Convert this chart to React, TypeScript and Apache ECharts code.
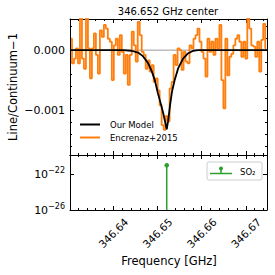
import React, { useEffect, useRef } from "react";
import * as echarts from "echarts";

// ---- data ----
const X_MIN = 346.6302;
const X_MAX = 346.6748;
const Y_MIN = -0.00175;
const Y_MAX = 0.00052;
const LOG_MIN = 1e-26;
const LOG_MAX = 1.4e-20;

// Encrenaz+2015 spectrum (Line/Continuum-1, units of 1e-4), channel grid
const CH_START = 346.6302; // left edge of first channel (GHz)
const CH_WIDTH = 0.000451; // channel width (GHz)
const OBS_VALUES_E4 = [
  1.9, -2.2, -1.4, 0.3, -2.2, 6.0, -1.4, -3.1, 6.0, 0.3, -4.7, 0.3, 2.8, -0.8, -3.9, 3.3, 2.2, 4.2, 3.6, 1.9, 1.4, -5.0, 0.8, 1.9, -0.8,
  2.5, -0.3, -3.9, -0.8, -5.8, -0.8, 3.1, 0.8, -1.9, 4.7, 2.5, -0.3, -0.8, -3.1, -1.7, -3.6, -2.5, -5.3, -4.7, -6.7, -9.2, -12.5, -13.3, -11.0,
  -11.9, -6.4, -5.3, -0.8, -2.5, 0.3, 0.0, -3.3, -0.3, -1.9, -2.2, 0.8, 0.3, 1.9, 2.5, 3.6, 1.4, -0.3, -1.4, -4.4, 1.9, -0.3, 1.4, -0.8, 1.9, 0.3,
  4.2, -5.0, -9.7, 1.9, -4.2, -1.1, -0.6, 0.8, 1.9, 2.5, 1.4, -1.1, 1.4, -1.4, 6.0, 3.6, 0.8, 0.6, -1.1, 1.4, -3.6, 1.7, 4.4, 0.3,
];

// Our Model
const MODEL_FREQ = [
  346.6302, 346.6422, 346.6441, 346.6456, 346.6467, 346.6479, 346.6487, 346.6494, 346.6501, 346.6507,
  346.6513, 346.6518, 346.6521, 346.6524, 346.65285, 346.6533, 346.6539, 346.6547, 346.6558, 346.6569,
  346.6581, 346.6592, 346.6748,
];
const MODEL_VAL_E4 = [
  0, 0, -0.1, -0.4, -1.0, -2.2, -3.5, -5.0, -7.2, -8.8,
  -10.5, -12.2, -13.2, -11.9, -9.2, -6.9, -5.0, -3.0, -1.4, -0.55,
  -0.1, 0, 0,
];

// SO2 line
const SO2_FREQ = [346.6521];
const SO2_INTENSITY = [1e-21];

// ticks
const X_MAJOR = [346.64, 346.65, 346.66, 346.67];
const Y_MAJOR = [0, -0.001];
const LOG_MAJOR = [1e-26, 1e-22];

const FONT = "DejaVu Sans";

export default function App() {
  const ref = useRef<HTMLDivElement>(null);
  useEffect(() => {
    if (!ref.current) return;
    const chart = echarts.init(ref.current, null, { renderer: "svg" });

    const obsData = OBS_VALUES_E4.map((v, i) => [CH_START + (i + 0.5) * CH_WIDTH, v * 1e-4]);
    const modelData = MODEL_FREQ.map((f, i) => [f, MODEL_VAL_E4[i] * 1e-4]);

    const xMinor: number[] = [];
    for (let i = 0; i <= 22; i++) {
      const v = Math.round((346.632 + 0.002 * i) * 1000) / 1000;
      if (v > X_MAX) break;
      if (Math.abs(Math.round(v * 100) - v * 100) < 1e-6) continue;
      xMinor.push(v);
    }
    const yMinor: number[] = [];
    for (let i = -8; i <= 2; i++) {
      if (i === 0 || i === -5) continue;
      yMinor.push(i * 0.0002);
    }

    const grids = [
      { left: 70, top: 19, width: 197, height: 136 },
      { left: 70, top: 155, width: 197, height: 55 },
    ];

    const lineStyle = { color: "#000", width: 1 };
    const mkX = (gridIndex: number, position: string, ticks: number[], len: number, showLine: boolean, labels: boolean) => ({
      type: "value",
      gridIndex,
      position,
      min: X_MIN,
      max: X_MAX,
      axisLine: { show: showLine, onZero: false, lineStyle },
      splitLine: { show: false },
      axisTick: { show: true, inside: true, length: len, lineStyle, customValues: ticks },
      axisLabel: labels
        ? {
            show: true,
            customValues: X_MAJOR,
            rotate: 45,
            align: "center",
            verticalAlign: "middle",
            margin: 23,
            fontSize: 10.5,
            fontFamily: FONT,
            color: "#000",
            formatter: (v: number) => v.toFixed(2),
          }
        : { show: false },
    });
    const mkY = (gridIndex: number, position: string, ticks: number[], len: number, showLine: boolean, labels: boolean) => ({
      type: "value",
      gridIndex,
      position,
      min: Y_MIN,
      max: Y_MAX,
      axisLine: { show: showLine, onZero: false, lineStyle },
      splitLine: { show: false },
      axisTick: { show: true, inside: true, length: len, lineStyle, customValues: ticks },
      axisLabel: labels
        ? {
            show: true,
            customValues: Y_MAJOR,
            margin: 5,
            fontSize: 11,
            fontFamily: FONT,
            color: "#000",
            formatter: (v: number) => v.toFixed(3).replace("-", "\u2212"),
          }
        : { show: false },
    });
    const mkLog = (position: string, labels: boolean) => ({
      type: "log",
      logBase: 10,
      gridIndex: 1,
      position,
      min: LOG_MIN,
      max: LOG_MAX,
      axisLine: { show: true, onZero: false, lineStyle },
      splitLine: { show: false },
      minorTick: { show: false },
      axisTick: { show: true, inside: true, length: 4, lineStyle, customValues: LOG_MAJOR },
      axisLabel: labels
        ? {
            show: true,
            customValues: LOG_MAJOR,
            margin: 5,
            fontFamily: FONT,
            color: "#000",
            formatter: (v: number) => {
              const e = Math.round(Math.log10(v));
              return "{b|10}{s|" + String(e).replace("-", "\u2212") + "}";
            },
            rich: {
              b: { fontSize: 11, fontFamily: FONT, color: "#000" },
              s: { fontSize: 8, fontFamily: FONT, color: "#000", padding: [0, 0, 8, 0] },
            },
          }
        : { show: false },
    });

    const option: any = {
      animation: false,
      backgroundColor: "#fff",
      title: {
        text: "346.652 GHz center",
        left: 168,
        top: 6,
        padding: 0,
        textAlign: "center",
        textStyle: { fontSize: 10, fontWeight: "normal", fontFamily: FONT, color: "#000" },
      },
      legend: {
        data: ["Our Model", "Encrenaz+2015"],
        orient: "vertical",
        left: 80,
        top: 120,
        padding: 0,
        itemWidth: 20,
        itemHeight: 2,
        itemGap: 4,
        icon: "rect",
        selectedMode: false,
        textStyle: { fontSize: 8.5, fontFamily: FONT, color: "#000", padding: [0, 0, 0, 5] },
      },
      grid: grids,
      xAxis: [
        mkX(0, "bottom", X_MAJOR, 4, true, false),
        mkX(0, "bottom", xMinor, 2, false, false),
        mkX(0, "top", X_MAJOR, 4, true, false),
        mkX(0, "top", xMinor, 2, false, false),
        mkX(1, "bottom", X_MAJOR, 4, true, true),
        mkX(1, "bottom", xMinor, 2, false, false),
        mkX(1, "top", X_MAJOR, 4, true, false),
        mkX(1, "top", xMinor, 2, false, false),
      ],
      yAxis: [
        mkY(0, "left", Y_MAJOR, 4, true, true),
        mkY(0, "left", yMinor, 2, false, false),
        mkY(0, "right", Y_MAJOR, 4, true, false),
        mkY(0, "right", yMinor, 2, false, false),
        mkLog("left", true),
        mkLog("right", false),
      ],
      series: [
        {
          name: "zero",
          type: "line",
          xAxisIndex: 0,
          yAxisIndex: 0,
          data: [[X_MIN, 0], [X_MAX, 0]],
          symbol: "none",
          lineStyle: { color: "#9a9a9a", width: 1 },
          z: 1,
          silent: true,
        },
        {
          name: "Encrenaz+2015",
          type: "line",
          xAxisIndex: 0,
          yAxisIndex: 0,
          step: "middle",
          data: obsData,
          symbol: "none",
          color: "#ff7f0e",
          lineStyle: { color: "#ff7f0e", width: 1.8 },
          clip: true,
          z: 2,
        },
        {
          name: "Our Model",
          type: "line",
          xAxisIndex: 0,
          yAxisIndex: 0,
          data: modelData,
          symbol: "none",
          color: "#000",
          lineStyle: { color: "#000", width: 1.8 },
          clip: true,
          z: 3,
        },
        {
          name: "SO2",
          type: "line",
          xAxisIndex: 4,
          yAxisIndex: 4,
          data: [
            { value: [SO2_FREQ[0], LOG_MIN], symbol: "none" },
            { value: [SO2_FREQ[0], SO2_INTENSITY[0]], symbol: "circle", symbolSize: 4.5 },
          ],
          showSymbol: true,
          color: "#2ca02c",
          itemStyle: { color: "#2ca02c" },
          lineStyle: { color: "#2ca02c", width: 1.5 },
          z: 3,
        },
      ],
      graphic: [
        {
          type: "text",
          x: 12.5,
          y: 87,
          rotation: Math.PI / 2,
          style: {
            text: "Line/Continuum\u22121",
            fontSize: 11.5,
            fontFamily: FONT,
            fill: "#000",
            align: "center",
            verticalAlign: "middle",
          },
        },
        {
          type: "text",
          x: 169,
          y: 261,
          style: {
            text: "Frequency [GHz]",
            fontSize: 11.5,
            fontFamily: FONT,
            fill: "#000",
            align: "center",
            verticalAlign: "middle",
          },
        },
        {
          type: "group",
          children: [
            {
              type: "rect",
              shape: { x: 207, y: 162, width: 55, height: 18, r: 2 },
              style: { fill: "#fff", stroke: "#cccccc", lineWidth: 1 },
            },
            {
              type: "line",
              shape: { x1: 210, y1: 173.5, x2: 232, y2: 173.5 },
              style: { stroke: "#2ca02c", lineWidth: 1.5 },
            },
            {
              type: "line",
              shape: { x1: 221, y1: 173.5, x2: 221, y2: 168.5 },
              style: { stroke: "#2ca02c", lineWidth: 1.5 },
            },
            {
              type: "circle",
              shape: { cx: 221, cy: 168.5, r: 2 },
              style: { fill: "#2ca02c" },
            },
            {
              type: "text",
              x: 240,
              y: 171.5,
              style: {
                text: "SO\u2082",
                fontSize: 8.5,
                fontFamily: FONT,
                fill: "#000",
                align: "left",
                verticalAlign: "middle",
              },
            },
          ],
        },
      ],
    };

    chart.setOption(option);
    return () => chart.dispose();
  }, []);

  return (
    <div
      ref={ref}
      style={{ position: "fixed", left: 0, top: 0, width: 275, height: 275, background: "#fff" }}
    />
  );
}
